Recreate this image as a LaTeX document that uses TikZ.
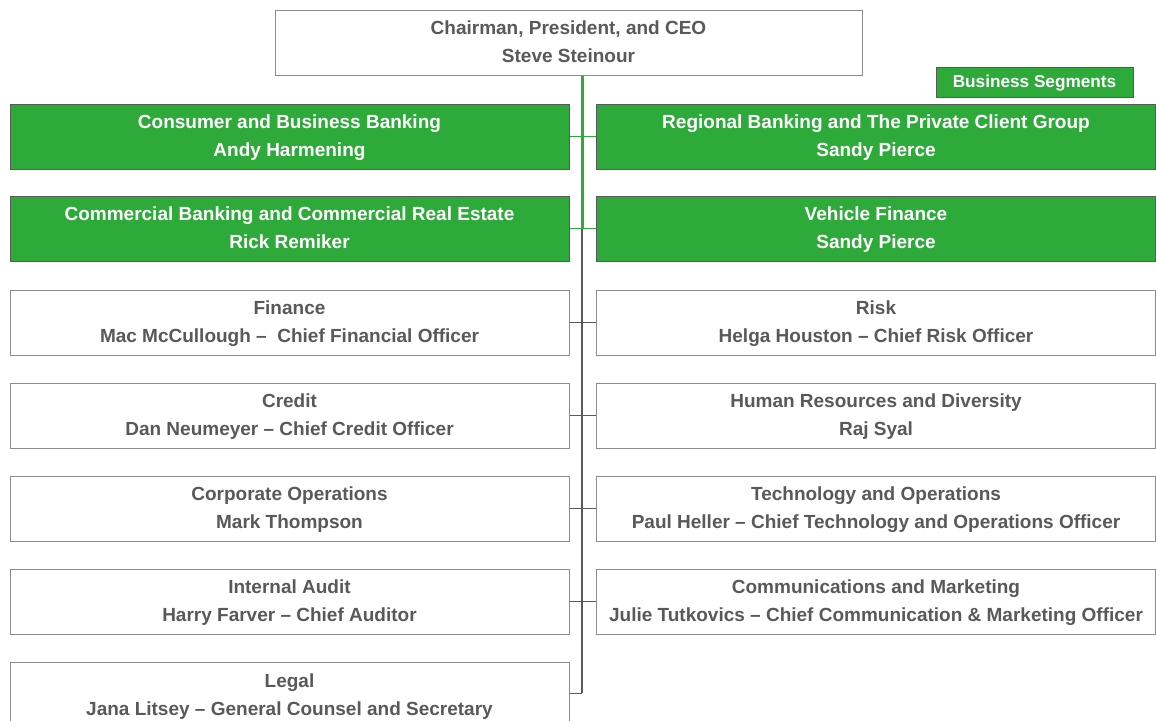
\documentclass[tikz,border=0pt]{standalone}
\usepackage{fontspec}
\setmainfont{Liberation Sans}
\definecolor{hgreen}{HTML}{2EAA3A}
\definecolor{txtgray}{HTML}{595959}
\definecolor{boxgray}{HTML}{8C8C8C}
\definecolor{linegray}{HTML}{595959}
\newcommand\twol[2]{\rule{0pt}{17pt}#1\\#2\rule[-5pt]{0pt}{5pt}}
\tikzset{
  wbox/.style={draw=boxgray, line width=1pt, fill=white, rectangle, inner sep=0pt,
    minimum width=559pt, minimum height=65pt, align=center, text=txtgray,
    font=\fontsize{19}{28}\selectfont\bfseries},
  gbox/.style={wbox, fill=hgreen, draw=linegray, text=white},
  gline/.style={draw=hgreen, line width=3pt},
  dline/.style={draw=linegray, line width=2pt},
  gconn/.style={draw=hgreen, line width=1.5pt},
  dconn/.style={draw=linegray, line width=1pt},
}
\begin{document}
\begin{tikzpicture}[x=1pt,y=-1pt]
\useasboundingbox[fill=white] (0,0) rectangle (1156,720);
% CEO
\node[wbox, minimum width=587pt] (ceo) at (568.5,42.5) {\twol{Chairman, President, and CEO}{Steve Steinour}};
\node[gbox, minimum width=197pt, minimum height=30pt, font=\fontsize{17.2}{20}\selectfont\bfseries] (seg) at (1034.5,82) {\rule[-3.8pt]{0pt}{19pt}Business Segments};
% left column
\node[gbox] (cbb) at (289.5,136.5) {\twol{Consumer and Business Banking}{Andy Harmening}};
\node[gbox] (cre) at (289.5,228.5) {\twol{Commercial Banking and Commercial Real Estate}{Rick Remiker}};
\node[wbox] (fin) at (289.5,322.5) {\twol{Finance}{Mac McCullough --\ \ Chief Financial Officer}};
\node[wbox] (cred) at (289.5,415.5) {\twol{Credit}{Dan Neumeyer -- Chief Credit Officer}};
\node[wbox] (cops) at (289.5,508.5) {\twol{Corporate Operations}{Mark Thompson}};
\node[wbox] (aud) at (289.5,601.5) {\twol{Internal Audit}{Harry Farver -- Chief Auditor}};
\node[wbox] (leg) at (289.5,695) {\twol{Legal}{Jana Litsey -- General Counsel and Secretary}};
% right column
\node[gbox] (rbg) at (876,136.5) {\twol{Regional Banking and The Private Client Group}{Sandy Pierce}};
\node[gbox] (veh) at (876,228.5) {\twol{Vehicle Finance}{Sandy Pierce}};
\node[wbox] (risk) at (876,322.5) {\twol{Risk}{Helga Houston -- Chief Risk Officer}};
\node[wbox] (hr) at (876,415.5) {\twol{Human Resources and Diversity}{Raj Syal}};
\node[wbox] (tech) at (876,508.5) {\twol{Technology and Operations}{Paul Heller -- Chief Technology and Operations Officer}};
\node[wbox] (comm) at (876,601.5) {\twol{Communications and Marketing}{Julie Tutkovics -- Chief Communication \& Marketing Officer}};
% spine
\coordinate (s0) at (582,0 |- ceo.south);
\coordinate (s2) at (582,228.5);
\coordinate (send) at (582,693);
\draw[dline] (s2) -- (send);
\draw[dconn] (send) -- (send -| leg.east);
\draw[gline] (ceo.south -| s0) -- (s2);
\draw[gconn] (cbb.east) -- (rbg.west);
\draw[gconn] (cre.east) -- (veh.west);
\draw[dconn] (fin.east) -- (risk.west);
\draw[dconn] (cred.east) -- (hr.west);
\draw[dconn] (cops.east) -- (tech.west);
\draw[dconn] (aud.east) -- (comm.west);
\end{tikzpicture}
\end{document}
